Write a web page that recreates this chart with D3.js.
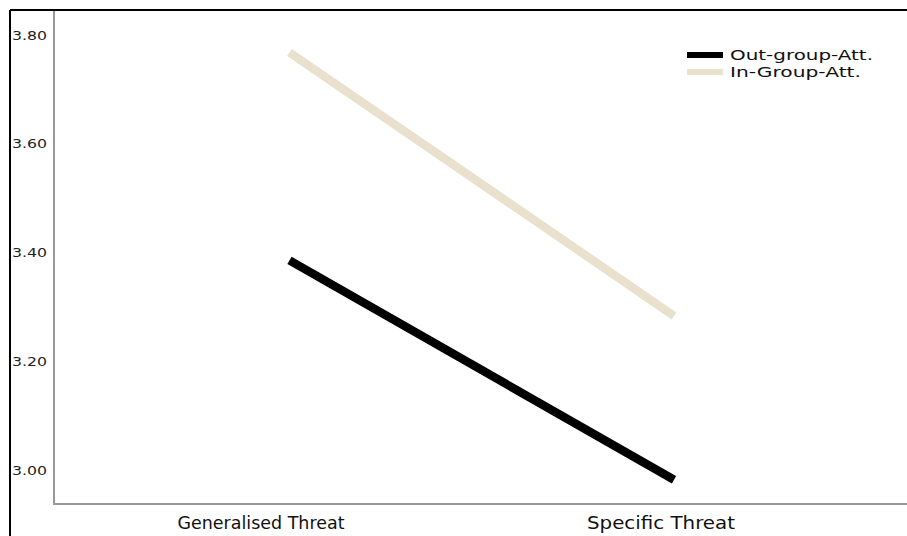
<!DOCTYPE html>
<html><head><meta charset="utf-8">
<script src="https://cdn.jsdelivr.net/npm/d3@7"></script>
<style>html,body{margin:0;padding:0;background:#fff;}svg{display:block;}</style>
</head><body>
<svg id="c" width="907" height="536"></svg>
<script>
const categories = ["Generalised Threat", "Specific Threat"];
const seriesNames = ["Out-group-Att.", "In-Group-Att."];
const outGroup = [3.386, 2.983];
const inGroup = [3.768, 3.284];
const yTicks = [3.00, 3.20, 3.40, 3.60, 3.80];
const colors = ["#000000", "#e9e1cd"];

const svg = d3.select("#c");
const font = "'DejaVu Sans', sans-serif";

// outer frame
svg.append("line").attr("x1", 10).attr("x2", 907).attr("y1", 10).attr("y2", 10).attr("stroke", "#000").attr("stroke-width", 2);
svg.append("line").attr("x1", 10).attr("x2", 10).attr("y1", 10).attr("y2", 536).attr("stroke", "#000").attr("stroke-width", 2);

const y = d3.scaleLinear().domain([3.0, 3.8]).range([470.5, 35]);
const x = d3.scalePoint().domain(categories).range([289.5, 674]);
const xLab = d3.scalePoint().domain(categories).range([261, 661]);
const labW = [167, 148];

// axes lines
svg.append("line").attr("x1", 54).attr("x2", 54).attr("y1", 11).attr("y2", 504).attr("stroke", "#999").attr("stroke-width", 2);
svg.append("line").attr("x1", 53).attr("x2", 907).attr("y1", 504).attr("y2", 504).attr("stroke", "#999").attr("stroke-width", 2);

// y tick labels
svg.append("g").selectAll("text").data(yTicks).join("text")
  .attr("x", 12).attr("y", d => y(d)).attr("dy", "0.35em")
  .attr("font-family", font).attr("font-size", 13).attr("fill", "#222")
  .attr("textLength", 35).attr("lengthAdjust", "spacingAndGlyphs")
  .text(d => d.toFixed(2));

// x labels
svg.append("g").selectAll("text").data(categories).join("text")
  .attr("x", d => xLab(d)).attr("y", 529).attr("text-anchor", "middle")
  .attr("font-family", font).attr("font-size", 17.5).attr("fill", "#111")
  .attr("textLength", (d, i) => labW[i]).attr("lengthAdjust", "spacingAndGlyphs")
  .text(d => d);

// lines
const series = [outGroup, inGroup];
const lineGen = d3.line().x((d, i) => x(categories[i])).y(d => y(d));
[1, 0].forEach(k => {
  svg.append("path").datum(series[k]).attr("d", lineGen)
    .attr("fill", "none").attr("stroke", colors[k]).attr("stroke-width", 8.5).attr("stroke-linecap", "butt");
});

// legend
const legW = [143, 131];
const leg = svg.append("g");
seriesNames.forEach((n, i) => {
  const cy = 55 + i * 17;
  leg.append("rect").attr("x", 687).attr("y", cy - 3).attr("width", 36).attr("height", 6).attr("fill", colors[i]);
  leg.append("text").attr("x", 730).attr("y", cy).attr("dy", "0.35em")
    .attr("font-family", font).attr("font-size", 13.5).attr("fill", "#111")
    .attr("textLength", legW[i]).attr("lengthAdjust", "spacingAndGlyphs").text(n);
});
</script>
</body></html>
